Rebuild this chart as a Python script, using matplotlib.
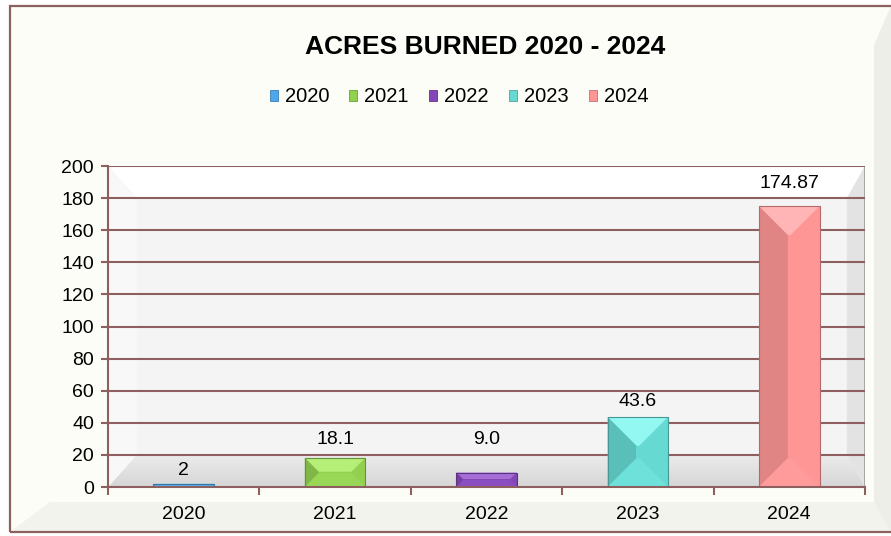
import matplotlib
matplotlib.use("Agg")
import matplotlib.pyplot as plt
import numpy as np
from matplotlib.patches import Rectangle, Polygon, Patch
from matplotlib.colors import to_rgb, rgb_to_hsv, hsv_to_rgb

plt.rcParams['font.family'] = ['Liberation Sans', 'DejaVu Sans']

categories = ["2020", "2021", "2022", "2023", "2024"]
values = [2, 18.1, 9.0, 43.6, 174.87]
value_labels = ["2", "18.1", "9.0", "43.6", "174.87"]
colors = ["#4FA8EC", "#92D050", "#8447B8", "#66D9D2", "#FF9696"]
title = "ACRES BURNED 2020 - 2024"
yticks = list(range(0, 201, 20))

W, H = 891, 536
fig = plt.figure(figsize=(W / 100, H / 100), dpi=100)
fig.patch.set_facecolor("white")

def fx(px):
    return px / W

def fy(py):
    return 1 - py / H

L, T, B = 10, 6, 532
# chart area background with frame
fig.patches.append(Rectangle((fx(L), fy(B)), fx(W - L), (B - T) / H, transform=fig.transFigure,
                             facecolor="#FCFDF6", edgecolor="none", zorder=0))
fig.patches.append(Polygon([(fx(L), fy(B)), (fx(W), fy(B)), (fx(874), fy(502)), (fx(50), fy(502))],
                           closed=True, transform=fig.transFigure, facecolor="#F2F3EC", edgecolor="none", zorder=0))
fig.patches.append(Polygon([(fx(W), fy(T)), (fx(W), fy(B)), (fx(874), fy(502)), (fx(874), fy(45))],
                           closed=True, transform=fig.transFigure, facecolor="#EDEEE8", edgecolor="none", zorder=0))
fig.patches.append(Rectangle((fx(L), fy(B)), fx(900), (B - T) / H, transform=fig.transFigure,
                             facecolor="none", edgecolor="#8E5F5F", linewidth=1.6, zorder=1))

ax = fig.add_axes([fx(108), fy(487), fx(865 - 108), (487 - 166) / H])
ax.set_zorder(5)
ax.set_facecolor("#F4F4F4")
n = len(categories)
x = np.arange(n)
ax.set_xlim(-0.5, n - 0.5)
ax.set_ylim(0, 200)

# plot-area bevel (axes coords)
ix, iy, ixr = 0.038, 0.1, 0.024
grad = np.linspace(0, 1, 50).reshape(-1, 1)
floor = ax.imshow(grad, cmap=matplotlib.colors.LinearSegmentedColormap.from_list("fl", ["#D6D6D6", "#ECECEC"]),
                  extent=(0, 1, 0, iy), transform=ax.transAxes, aspect="auto", origin="lower", zorder=0.4)
floor.set_clip_path(Polygon([(0, 0), (1, 0), (1 - ixr, iy), (ix, iy)], closed=True, transform=ax.transAxes))
bevels = [
    ([(0, 1), (1, 1), (1 - ixr, 1 - iy), (ix, 1 - iy)], "#FFFFFF"),
    ([(0, 0), (0, 1), (ix, 1 - iy), (ix, iy)], "#F8F8F8"),
    ([(1, 0), (1, 1), (1 - ixr, 1 - iy), (1 - ixr, iy)], "#E3E3E3"),
]
for pts, c in bevels:
    ax.add_patch(Polygon(pts, closed=True, transform=ax.transAxes, facecolor=c, edgecolor="none", zorder=0.5))
ax.plot([1, 1], [0, 1], transform=ax.transAxes, color="#9C9C9C", linewidth=1.2, zorder=0.6)

grid_color = "#8E5F5F"
for yv in yticks[1:]:
    ax.axhline(yv, color=grid_color, linewidth=1.5, zorder=1)

bw = 0.4
bars = ax.bar(x, values, width=bw, color=colors, edgecolor="none", zorder=2)

fig.canvas.draw()
p0 = ax.transData.transform((0, 0))
p1 = ax.transData.transform((1, 1))
pxx, pxy = p1[0] - p0[0], p1[1] - p0[1]

def shade(c, f):
    r = np.array(to_rgb(c))
    if f >= 0:
        return tuple(r + (1 - r) * f)
    return tuple(r * (1 + f))

def bright(c, dv, ds):
    h = rgb_to_hsv(np.array(to_rgb(c)))
    h[2] = min(1, h[2] + dv)
    h[1] = max(0, h[1] + ds)
    return tuple(hsv_to_rgb(h))

for b, c in zip(bars, colors):
    x0, w, h = b.get_x(), b.get_width(), b.get_height()
    d = min(w * pxx, h * pxy) / 2 * 0.95
    dx, dy = d / pxx, d / pxy
    x1 = x0 + w
    tl, tr, br, bl = (x0, h), (x1, h), (x1, 0), (x0, 0)
    itl, itr, ibr, ibl = (x0 + dx, h - dy), (x1 - dx, h - dy), (x1 - dx, dy), (x0 + dx, dy)
    parts = [
        ([tl, tr, itr, itl], bright(c, 0.12, -0.12)),
        ([tl, itl, ibl, bl], shade(c, -0.12)),
        ([tr, br, ibr, itr], c),
        ([bl, br, ibr, ibl], bright(c, 0.03, -0.02)),
        ([itl, itr, ibr, ibl], c),
    ]
    for pts, col in parts:
        ax.add_patch(Polygon(pts, closed=True, facecolor=col, edgecolor="none", zorder=2.5))
    ax.add_patch(Rectangle((x0, 0), w, h, facecolor="none", edgecolor=shade(c, -0.3), linewidth=0.8, zorder=2.6))

# data labels (offsets in points above each bar top, as placed in the source chart)
label_offsets = [9.5, 13, 24, 11, 16.5]
for xi, v, lab, off in zip(x, values, value_labels, label_offsets):
    ax.annotate(lab, (xi, v), xytext=(0, off), textcoords="offset points", ha="center", va="center",
                fontsize=14, color="black", zorder=3)

for s in ["top", "right"]:
    ax.spines[s].set_visible(False)
for s in ["left", "bottom"]:
    ax.spines[s].set_color(grid_color)
    ax.spines[s].set_linewidth(1.5)
    ax.spines[s].set_zorder(3)

ax.set_yticks(yticks)
ax.set_yticklabels([str(t) for t in yticks], fontsize=14)
ax.set_xticks(x)
ax.set_xticklabels(categories, fontsize=14)
ax.tick_params(axis="x", length=0, pad=14)
ax.tick_params(axis="y", length=5, width=1.5, color=grid_color, pad=5)
ax.set_xticks(np.arange(-0.5, n, 1), minor=True)
ax.tick_params(axis="x", which="minor", length=6, width=1.5, color=grid_color, direction="out")

# title & legend
fig.text(fx(485), fy(47), title, ha="center", va="center", fontsize=19, fontweight="bold")
handles = [Patch(facecolor=c, edgecolor=shade(c, -0.25), linewidth=0.6) for c in colors]
fig.legend(handles, categories, loc="center", bbox_to_anchor=(fx(459), fy(97)), ncol=n, frameon=False,
           fontsize=14.5, handlelength=0.4, handleheight=0.45, handletextpad=0.35, columnspacing=1.0)

fig.savefig("out.png", dpi=100)
